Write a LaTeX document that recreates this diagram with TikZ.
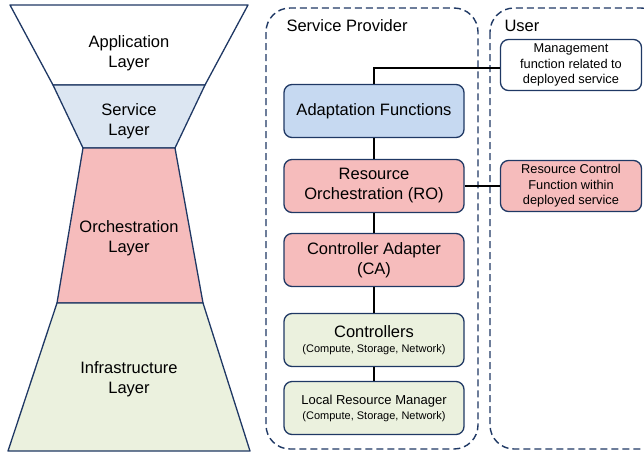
\documentclass[tikz,border=0pt]{standalone}
\usepackage{fontspec}
\setmainfont{Liberation Sans}
\definecolor{edge}{RGB}{31,56,100}
\definecolor{svcfill}{RGB}{220,230,242}
\definecolor{adaptfill}{RGB}{198,217,241}
\definecolor{orchfill}{RGB}{246,188,188}
\definecolor{infrafill}{RGB}{235,241,222}
\newcommand{\subtext}{\fontsize{11}{13}\selectfont}
\begin{document}
\begin{tikzpicture}[x=1pt, y=-1pt,
        layer/.style={draw=edge, line width=1.3pt, line join=round},
        layertext/.style={align=center, font=\fontsize{16.5}{20}\selectfont},
        group/.style={draw=edge, line width=1.4pt, dash pattern=on 7pt off 4pt, rounded corners=24pt},
        box/.style={draw=edge, line width=1.3pt, rounded corners=8pt, minimum width=180pt, minimum height=53pt, align=center, font=\fontsize{16.5}{20}\selectfont},
        smallbox/.style={draw=edge, line width=1.3pt, rounded corners=8pt, minimum width=141pt, minimum height=51pt, align=center, font=\fontsize{12.8}{15.5}\selectfont},
        link/.style={draw=black, line width=1.4pt}]
        \useasboundingbox (0,0) rectangle (644,453);
        \clip (0,0) rectangle (644,453);

        \draw[layer, fill=white] (10,5) -- (248,5) -- (205,85) -- (53,85) -- cycle;
        \draw[layer, fill=svcfill] (53,85) -- (205,85) -- (175,148) -- (83,148) -- cycle;
        \draw[layer, fill=orchfill] (83,148) -- (175,148) -- (203,303) -- (57,303) -- cycle;
        \draw[layer, fill=infrafill] (57,303) -- (203,303) -- (250,451) -- (8,451) -- cycle;
        \node[layertext] (app) at (129,53) {Application\\Layer};
        \node[layertext] (svc) at (129,121) {Service\\Layer};
        \node[layertext] (orch) at (129,238) {Orchestration\\Layer};
        \node[layertext] (infra) at (129,379) {Infrastructure\\Layer};

        \draw[group] (266,8) rectangle (478,449);
        \draw[group] (490,8) rectangle (665,449);
        \node[layertext, anchor=west] (sp) at (283,26) {Service Provider};
        \node[layertext, anchor=west] (user) at (501,26) {User};

        \node[box, fill=adaptfill] (af) at (374,111) {Adaptation Functions};
        \node[box, fill=orchfill] (ro) at (374,186) {Resource\\Orchestration (RO)};
        \node[box, fill=orchfill] (ca) at (374,260) {Controller Adapter\\(CA)};
        \node[box, fill=infrafill] (ctl) at (374,340) {Controllers\\[-5pt]{\subtext (Compute, Storage, Network)}};
        \node[box, fill=infrafill, font=\fontsize{13}{15}\selectfont] (lrm) at (374,408) {Local Resource Manager\\{\subtext (Compute, Storage, Network)}};

        \node[smallbox, fill=white] (mgmt) at (571,65) {Management\\function related to\\deployed service};
        \node[smallbox, fill=orchfill] (rcf) at (571,186) {Resource Control\\Function within\\deployed service};

        \coordinate (bend) at (374,68);
        \draw[link] (af.north) -- (bend) -- (bend -| mgmt.west);
        \draw[link] (ro.east) -- (rcf.west);
        \draw[link] (af) -- (ro);
        \draw[link] (ro) -- (ca);
        \draw[link] (ca) -- (ctl);
        \draw[link] (ctl) -- (lrm);
\end{tikzpicture}
\end{document}
